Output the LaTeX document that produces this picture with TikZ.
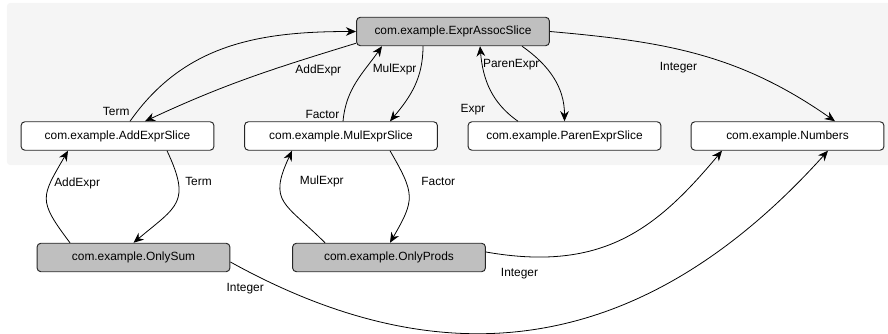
\documentclass[tikz,border=0pt]{standalone}
\usepackage{fontspec}
\setmainfont{Liberation Sans}
\usetikzlibrary{arrows.meta}

\begin{document}
\begin{tikzpicture}[
    font=\fontsize{11.3pt}{13pt}\selectfont,
    slice/.style={draw=black!85, line width=0.9pt, rounded corners=0.13cm,
        fill=white, minimum width=6.43cm, minimum height=0.95cm, inner sep=0pt},
    pkg/.style={slice, fill=black!25},
    dep/.style={-{Stealth[length=3.4mm,width=2.9mm]}, line width=0.75pt}
]
    \useasboundingbox (0,0) rectangle (29.6,-11.133);

    % Shaded area behind the slices
    \fill[black!4, rounded corners=0.1cm] (0.233,-0.1) rectangle (29.9,-5.5);

    % Slices and packages
    \node[pkg]   (assoc) at (15.1,-1.05)    {com.example.ExprAssocSlice};
    \node[slice] (add)   at (3.917,-4.533)  {com.example.AddExprSlice};
    \node[slice] (mul)   at (11.367,-4.533) {com.example.MulExprSlice};
    \node[slice] (paren) at (18.817,-4.533) {com.example.ParenExprSlice};
    \node[slice] (num)   at (26.25,-4.533)  {com.example.Numbers};
    \node[pkg]   (sum)   at (4.45,-8.583)   {com.example.OnlySum};
    \node[pkg]   (prods) at (12.967,-8.583) {com.example.OnlyProds};

    % Edges to and from ExprAssocSlice
    \draw[dep] ([xshift=0.417cm]add.north) to[out=55,in=180]
        node[pos=0.02, above left, yshift=-0.1cm] {Term} (assoc.west);
    \draw[dep] ([yshift=0.1cm]assoc.south west) to[out=197,in=25]
        node[pos=0.16, below=6pt] {AddExpr} ([xshift=0.917cm]add.north);
    \draw[dep] ([xshift=0.067cm]mul.north) to[out=85,in=235]
        node[pos=0.02, above left, yshift=-0.1cm] {Factor} ([xshift=-2.367cm]assoc.south);
    \draw[dep] ([xshift=-1cm]assoc.south) to[out=-90,in=50]
        node[pos=0.27, left] {MulExpr} ([xshift=1.633cm]mul.north);
    \draw[dep] ([xshift=-1.55cm]paren.north) to[out=145,in=-85]
        node[pos=0.15, left, xshift=-0.6cm, yshift=0.1cm] {Expr} ([xshift=0.9cm]assoc.south);
    \draw[dep] ([xshift=2.3cm]assoc.south) to[out=-35,in=90]
        node[pos=0.3, left] {ParenExpr} (paren.north);
    \draw[dep] (assoc.east) to[out=-5,in=145]
        node[pos=0.42, below=8pt] {Integer} ([xshift=1.583cm]num.north);

    % Lower loops
    \draw[dep] ([xshift=-2.117cm]sum.north) to[out=127,in=240,looseness=1.5]
        node[pos=0.7, right] {AddExpr} ([xshift=-1.65cm]add.south);
    \draw[dep] ([xshift=1.65cm]add.south) to[out=-65,in=40,looseness=1.5]
        node[pos=0.25, right=3pt] {Term} (sum.north);
    \draw[dep] ([xshift=-2.133cm]prods.north) to[out=135,in=245,looseness=1.5]
        node[pos=0.75, right=14pt] {MulExpr} ([xshift=-1.633cm]mul.south);
    \draw[dep] ([xshift=1.633cm]mul.south) to[out=-60,in=60,looseness=1.4]
        node[pos=0.3, right=11pt] {Factor} ([xshift=0.033cm]prods.north);

    % Long edges to Numbers
    \draw[dep] ([yshift=0.183cm]prods.east)
        to[out=-10,in=230,out distance=4cm,in distance=3.33cm]
        node[pos=0.1, below=8pt] {Integer} ([xshift=-2.183cm]num.south);
    \draw[dep] ([yshift=-0.15cm]sum.east)
        to[out=-29,in=228,out distance=7.5cm,in distance=9.87cm]
        node[pos=0.025, below=8.5pt] {Integer} ([xshift=1.35cm]num.south);
\end{tikzpicture}
\end{document}
